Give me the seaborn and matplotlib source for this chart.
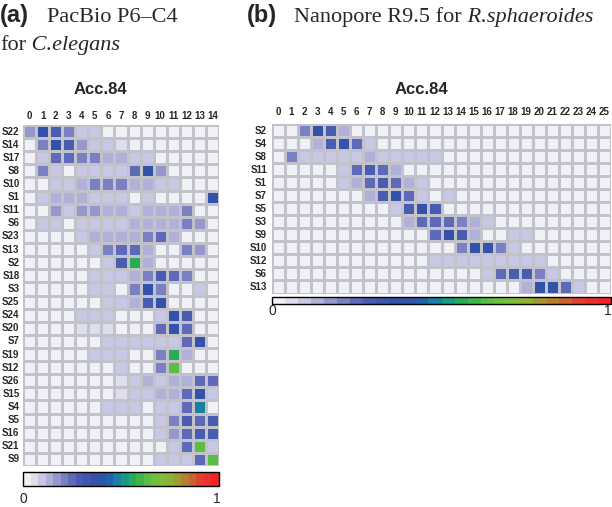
import numpy as np
import pandas as pd
import matplotlib
matplotlib.use("Agg")
import matplotlib.pyplot as plt
import seaborn as sns
from matplotlib.colors import ListedColormap

sns.set_theme(style="white")
plt.rcParams["font.family"] = ["Liberation Sans", "DejaVu Sans"]

# ---------------- data ----------------
rows_a = ["S22", "S14", "S17", "S8", "S10", "S1", "S11", "S6", "S23", "S13", "S2", "S18", "S3",
          "S25", "S24", "S20", "S7", "S19", "S12", "S26", "S15", "S4", "S5", "S16", "S21", "S9"]
cols_a = ["0", "1", "2", "3", "4", "5", "6", "7", "8", "9", "10", "11", "12", "13", "14"]
acc_a = [
    [.17, .36, .30, .20, .09, .09, .02, .02, .02, .02, .02, .02, .02, .02, .02],  # S22
    [.02, .20, .36, .30, .17, .09, .09, .05, .02, .02, .02, .02, .02, .02, .02],  # S14
    [.02, .09, .25, .25, .20, .20, .13, .13, .09, .09, .02, .02, .02, .02, .02],  # S17
    [.02, .20, .09, .02, .09, .09, .09, .09, .25, .36, .17, .02, .02, .02, .02],  # S8
    [.02, .02, .09, .09, .13, .20, .20, .20, .13, .13, .09, .09, .02, .02, .02],  # S10
    [.02, .09, .13, .13, .13, .09, .09, .09, .02, .09, .02, .02, .02, .02, .36],  # S1
    [.02, .02, .17, .09, .17, .17, .13, .13, .09, .13, .13, .13, .20, .02, .02],  # S11
    [.02, .09, .09, .02, .09, .09, .09, .09, .13, .13, .13, .13, .20, .17, .02],  # S6
    [.02, .02, .02, .02, .09, .13, .13, .13, .13, .20, .25, .13, .02, .02, .02],  # S23
    [.02, .02, .02, .02, .02, .09, .20, .25, .25, .13, .02, .02, .20, .17, .02],  # S13
    [.02, .02, .02, .02, .02, .02, .09, .30, .56, .13, .02, .02, .02, .02, .02],  # S2
    [.02, .02, .02, .02, .02, .09, .09, .09, .13, .20, .30, .25, .20, .02, .02],  # S18
    [.02, .02, .02, .02, .02, .09, .09, .02, .20, .36, .20, .02, .02, .09, .02],  # S3
    [.02, .02, .02, .02, .02, .02, .09, .09, .13, .30, .36, .02, .02, .02, .02],  # S25
    [.02, .02, .02, .02, .09, .09, .09, .02, .02, .02, .09, .36, .30, .02, .02],  # S24
    [.02, .02, .02, .02, .05, .05, .05, .02, .02, .02, .25, .36, .25, .02, .02],  # S20
    [.02, .02, .02, .02, .02, .02, .09, .09, .09, .09, .09, .09, .25, .36, .02],  # S7
    [.02, .02, .02, .02, .02, .09, .09, .09, .02, .02, .20, .56, .13, .02, .02],  # S19
    [.02, .02, .02, .02, .02, .02, .02, .09, .02, .02, .20, .64, .02, .02, .02],  # S12
    [.02, .02, .02, .02, .02, .02, .02, .05, .09, .13, .09, .13, .13, .25, .25],  # S26
    [.02, .02, .02, .02, .02, .02, .02, .05, .09, .09, .13, .13, .25, .36, .09],  # S15
    [.02, .02, .02, .02, .02, .02, .09, .09, .09, .02, .09, .09, .25, .47, .02],  # S4
    [.02, .02, .02, .02, .02, .02, .02, .02, .02, .02, .09, .20, .30, .25, .30],  # S5
    [.02, .02, .02, .02, .02, .02, .02, .02, .02, .02, .09, .17, .25, .30, .30],  # S16
    [.02, .02, .02, .02, .02, .02, .02, .02, .02, .02, .02, .09, .25, .64, .09],  # S21
    [.02, .02, .02, .02, .02, .02, .02, .02, .02, .02, .09, .09, .09, .25, .64],  # S9
]

rows_b = ["S2", "S4", "S8", "S11", "S1", "S7", "S5", "S3", "S9", "S10", "S12", "S6", "S13"]
cols_b = ["0", "1", "2", "3", "4", "5", "6", "7", "8", "9", "10", "11", "12", "13", "14", "15",
          "16", "17", "18", "19", "20", "21", "22", "23", "24", "25"]
acc_b = [
    [.02, .02, .20, .36, .30, .13, .02, .02, .02, .02, .02, .02, .02, .02, .02, .02, .02, .02, .02, .02, .02, .02, .02, .02, .02, .02],  # S2
    [.02, .02, .02, .13, .30, .36, .25, .09, .02, .02, .02, .02, .02, .02, .02, .02, .02, .02, .02, .02, .02, .02, .02, .02, .02, .02],  # S4
    [.02, .20, .09, .09, .09, .09, .09, .13, .09, .09, .09, .09, .09, .02, .02, .02, .02, .02, .02, .02, .02, .02, .02, .02, .02, .02],  # S8
    [.02, .02, .02, .02, .02, .09, .25, .30, .25, .13, .02, .02, .02, .02, .02, .02, .02, .02, .02, .02, .02, .02, .02, .02, .02, .02],  # S11
    [.02, .02, .02, .02, .02, .09, .13, .25, .30, .25, .13, .09, .02, .02, .02, .02, .02, .02, .02, .02, .02, .02, .02, .02, .02, .02],  # S1
    [.02, .02, .02, .02, .02, .02, .02, .13, .30, .36, .25, .09, .02, .09, .02, .02, .02, .02, .02, .02, .02, .02, .02, .02, .02, .02],  # S7
    [.02, .02, .02, .02, .02, .02, .02, .02, .02, .09, .30, .36, .30, .02, .02, .02, .02, .02, .02, .02, .02, .02, .02, .02, .02, .02],  # S5
    [.02, .02, .02, .02, .02, .02, .02, .02, .02, .02, .13, .25, .25, .25, .20, .13, .09, .02, .02, .02, .02, .02, .02, .02, .02, .02],  # S3
    [.02, .02, .02, .02, .02, .02, .02, .02, .02, .02, .02, .02, .25, .36, .30, .13, .02, .02, .09, .09, .02, .02, .02, .02, .02, .02],  # S9
    [.02, .02, .02, .02, .02, .02, .02, .02, .02, .02, .02, .02, .02, .02, .20, .36, .36, .20, .09, .02, .02, .02, .02, .02, .02, .02],  # S10
    [.02, .02, .02, .02, .02, .02, .02, .02, .02, .02, .02, .02, .09, .09, .09, .09, .09, .09, .09, .09, .09, .02, .02, .02, .02, .02],  # S12
    [.02, .02, .02, .02, .02, .02, .02, .02, .02, .02, .02, .02, .02, .02, .02, .02, .09, .25, .30, .30, .20, .09, .02, .02, .02, .02],  # S6
    [.02, .02, .02, .02, .02, .02, .02, .02, .02, .02, .02, .02, .02, .02, .02, .02, .02, .02, .02, .13, .36, .36, .25, .09, .02, .02],  # S13
]

title_a = "Acc.84"
title_b = "Acc.84"

# -------------- colour scale (stepped) --------------
step_colors = ["#f0f0f7", "#dedeef", "#c8c8e4", "#b0b0d8", "#9698cc", "#7a80c2", "#5e6ab8",
               "#4a5cb0", "#3e56ac", "#3452aa", "#2e54a8", "#2262a6", "#1a80a0", "#1a9a80",
               "#28ac58", "#40b44c", "#5cbc44", "#70c040", "#80bc3c", "#90b034", "#a09a30",
               "#b48030", "#cc6030", "#e04030", "#ec3030", "#f02424"]
cmap = ListedColormap(step_colors)

W, H = 612, 507
fig = plt.figure(figsize=(W / 100, H / 100), dpi=100)


def box(x0, y0, x1, y1):
    return [x0 / W, 1 - y1 / H, (x1 - x0) / W, (y1 - y0) / H]


def draw_panel(data, rows, cols, rect, cbar_rect, xpad, ypad, lab_y, lab_x1):
    ax = fig.add_axes(box(*rect))
    df = pd.DataFrame(data, index=rows, columns=cols)
    sns.heatmap(df, ax=ax, cmap=cmap, vmin=0, vmax=1, cbar=False,
                linewidths=1.0, linecolor="#c2c2ca",
                xticklabels=True, yticklabels=True)
    ax.xaxis.tick_top()
    ax.tick_params(axis="x", length=0, pad=xpad, labelsize=7, labelrotation=0)
    ax.tick_params(axis="y", length=0, pad=ypad, labelsize=7, labelrotation=0)
    for lab in ax.get_xticklabels() + ax.get_yticklabels():
        lab.set_fontweight("bold")
    ax.set_xlabel("")
    ax.set_ylabel("")
    cax = fig.add_axes(box(*cbar_rect))
    cb = fig.colorbar(ax.collections[0], cax=cax, orientation="horizontal")
    cb.set_ticks([])
    cb.outline.set_edgecolor("black")
    cb.outline.set_linewidth(1.0)
    fig.text(cbar_rect[0] / W, 1 - lab_y / H, "0", ha="center", va="center", fontsize=10)
    fig.text(lab_x1 / W, 1 - lab_y / H, "1", ha="center", va="center", fontsize=10)
    return ax


draw_panel(acc_a, rows_a, cols_a, (23, 125, 219, 466), (23, 472, 219, 486), 3.0, 2.5, 499, 217)
draw_panel(acc_b, rows_b, cols_b, (272, 124, 611, 293.5), (272, 297, 611, 304), 5.2, 3.6, 311, 608)

fig.text(100 / W, 1 - 89 / H, title_a, ha="center", va="center", fontsize=12, fontweight="bold")
fig.text(421 / W, 1 - 90 / H, title_b, ha="center", va="center", fontsize=12, fontweight="bold")

# ---------------- panel headings (mixed roman / italic) ----------------
renderer = fig.canvas.get_renderer()
serif = ["Liberation Serif", "DejaVu Serif"]


def rich(x, y, parts):
    for s, kw in parts:
        t = fig.text(x / W, 1 - y / H, s, ha="left", va="baseline", **kw)
        bb = t.get_window_extent(renderer=renderer)
        x += bb.width


rich(0, 22, [("(a)", dict(fontsize=17, fontweight="bold", family=["Liberation Sans"]))])
rich(47, 22, [("PacBio P6\u2013C4", dict(fontsize=16, family=serif))])
rich(0, 50, [("for", dict(fontsize=16, family=serif)),
             (" C.elegans", dict(fontsize=16, family=serif, style="italic"))])
rich(247, 22, [("(b)", dict(fontsize=17, fontweight="bold", family=["Liberation Sans"]))])
rich(294, 22, [("Nanopore R9.5 for", dict(fontsize=16, family=serif)),
               (" R.sphaeroides", dict(fontsize=16, family=serif, style="italic"))])

fig.savefig("out.png", dpi=100)
